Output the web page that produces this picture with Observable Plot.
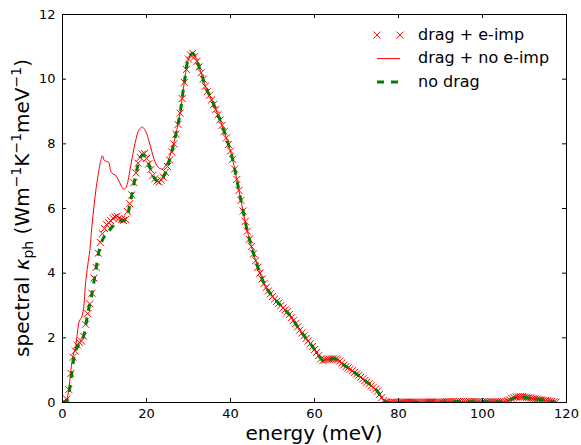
<!DOCTYPE html>
<html><head><meta charset="utf-8">
<script src="https://cdn.jsdelivr.net/npm/d3@7"></script>
<script src="https://cdn.jsdelivr.net/npm/@observablehq/plot@0.6"></script>
<style>body{margin:0;background:#fff} svg{display:block}</style>
</head><body><div id="chart"></div>
<script>
const xTicks = [0, 20, 40, 60, 80, 100, 120];
const yTicks = [0, 2, 4, 6, 8, 10, 12];
const seriesNames = ["drag + e-imp", "drag + no e-imp", "no drag"];
const xLabel = "energy (meV)";

// drag + e-imp (x markers)
const energyDragImp = [
  0,0.5,1,1.5,2,2.5,3,3.5,4,4.5,
  5,5.5,6,6.5,7,7.5,8,8.5,9,9.5,
  10,10.5,11,11.5,12,12.5,13,13.5,14,14.5,
  15,15.5,16,16.5,17,17.5,18,18.5,19,19.5,
  20,20.5,21,21.5,22,22.5,23,23.5,24,24.5,
  25,25.5,26,26.5,27,27.5,28,28.5,29,29.5,
  30,30.5,31,31.5,32,32.5,33,33.5,34,34.5,
  35,35.5,36,36.5,37,37.5,38,38.5,39,39.5,
  40,40.5,41,41.5,42,42.5,43,43.5,44,44.5,
  45,45.5,46,46.5,47,47.5,48,48.5,49,49.5,
  50,50.5,51,51.5,52,52.5,53,53.5,54,54.5,
  55,55.5,56,56.5,57,57.5,58,58.5,59,59.5,
  60,60.5,61,61.5,62,62.5,63,63.5,64,64.5,
  65,65.5,66,66.5,67,67.5,68,68.5,69,69.5,
  70,70.5,71,71.5,72,72.5,73,73.5,74,74.5,
  75,75.5,76,76.5,77,77.5,78,78.5,79,79.5,
  80,80.5,81,81.5,82,82.5,83,83.5,84,84.5,
  85,85.5,86,86.5,87,87.5,88,88.5,89,89.5,
  90,90.5,91,91.5,92,92.5,93,93.5,94,94.5,
  95,95.5,96,96.5,97,97.5,98,98.5,99,99.5,
  100,100.5,101,101.5,102,102.5,103,103.5,104,104.5,
  105,105.5,106,106.5,107,107.5,108,108.5,109,109.5,
  110,110.5,111,111.5,112,112.5,113,113.5,114,114.5,
  115,115.5,116,116.5,117,117.5
];
const kappaDragImp = [
  0,0.02,0.1,0.4,0.9,1.4,1.6,1.78,1.86,1.9,
  2.05,2.42,2.75,3.05,3.38,3.85,4.18,4.62,4.95,5.22,
  5.38,5.5,5.56,5.62,5.7,5.74,5.76,5.7,5.66,5.63,
  5.66,5.9,6.15,6.42,6.8,7.1,7.4,7.58,7.68,7.7,
  7.55,7.38,7.2,7.02,6.92,6.85,6.82,6.88,6.97,7.12,
  7.3,7.5,7.75,8.0,8.3,8.6,8.95,9.4,9.9,10.3,
  10.62,10.75,10.8,10.7,10.55,10.38,10.2,10.0,9.78,9.62,
  9.5,9.36,9.22,9.06,8.9,8.74,8.57,8.38,8.18,7.98,
  7.78,7.52,7.22,6.9,6.56,6.25,5.92,5.6,5.3,5.05,
  4.82,4.6,4.39,4.18,4.0,3.82,3.68,3.56,3.45,3.36,
  3.28,3.2,3.13,3.07,3.0,2.92,2.86,2.8,2.72,2.62,
  2.54,2.44,2.34,2.24,2.15,2.06,1.98,1.9,1.82,1.73,
  1.64,1.55,1.45,1.35,1.3,1.32,1.33,1.34,1.35,1.35,
  1.34,1.32,1.28,1.22,1.16,1.11,1.07,1.03,0.98,0.93,
  0.88,0.83,0.78,0.73,0.68,0.63,0.58,0.52,0.47,0.41,
  0.35,0.25,0.15,0.06,0.02,0,0,0.01,0.01,0.01,
  0.01,0.01,0.01,0.01,0.01,0.01,0.01,0.01,0.01,0.01,
  0.01,0.01,0.01,0.01,0.01,0.02,0.02,0.01,0.01,0.01,
  0.01,0.01,0.02,0.02,0.03,0.03,0.03,0.02,0.02,0.03,
  0.03,0.03,0.02,0.02,0.02,0.03,0.03,0.02,0.02,0.02,
  0.02,0.02,0.02,0.02,0.02,0.02,0.02,0.02,0.02,0.02,
  0.02,0.03,0.05,0.08,0.12,0.15,0.17,0.18,0.18,0.18,
  0.17,0.16,0.15,0.14,0.12,0.11,0.1,0.09,0.08,0.07,
  0.06,0.05,0.04,0.03,0.02,0.01
];

// no drag (green dashed)
const energyNoDrag = [
  0,1,2,3,4,5,6,7,8,9,
  10,11,12,13,14,15,16,17,18,19,
  20,21,22,23,24,25,26,27,28,29,
  30,31,32,33,34,35,36,37,38,39,
  40,41,42,43,44,45,46,47,48,49,
  50,51,52,53,54,55,56,57,58,59,
  60,61,62,63,64,65,66,67,68,69,
  70,71,72,73,74,75,76,77,78,79,
  80,81,82,83,84,85,86,87,88,89,
  90,91,92,93,94,95,96,97,98,99,
  100,101,102,103,104,105,106,107,108,109,
  110,111,112,113,114,115,116,117
];
const kappaNoDrag = [
  0,0.05,0.7,1.55,1.82,2.05,2.75,3.35,4.15,4.85,
  5.15,5.3,5.45,5.58,5.62,5.65,6.1,6.75,7.35,7.65,
  7.55,7.2,6.92,6.82,6.97,7.3,7.75,8.3,8.95,9.9,
  10.62,10.8,10.55,10.2,9.78,9.5,9.22,8.9,8.57,8.18,
  7.78,7.22,6.56,5.92,5.3,4.82,4.39,4.0,3.68,3.45,
  3.28,3.13,3.0,2.86,2.72,2.54,2.34,2.15,1.98,1.82,
  1.64,1.45,1.3,1.33,1.35,1.34,1.28,1.16,1.07,0.98,
  0.88,0.78,0.68,0.58,0.47,0.35,0.15,0.02,0,0.01,
  0.01,0.01,0.01,0.01,0.01,0.01,0.01,0.01,0.01,0.01,
  0.01,0.01,0.02,0.03,0.03,0.03,0.02,0.02,0.02,0.02,
  0.02,0.02,0.02,0.02,0.02,0.02,0.05,0.11,0.16,0.17,
  0.16,0.14,0.12,0.1,0.08,0.06,0.04,0.02
];

// drag + no e-imp (thin red line)
const energyDragNoImp = [
  0,0.5,1,1.5,2,2.5,3,3.5,4,4.5,
  5,5.5,6,6.5,7,7.5,8,8.5,9,9.5,
  10,10.5,11,11.5,12,12.5,13,13.5,14,14.5,
  15,15.5,16,16.5,17,17.5,18,18.5,19,19.5,
  20,20.5,21,21.5,22,22.5,23,23.5,24,24.5,
  25,25.5,26,26.5,27,
  28,29,30,31,32,33,34,35,36,37,38,39,
  40,41,42,43,44,45,46,47,48,49,
  50,51,52,53,54,55,56,57,58,59,
  60,61,62,63,64,65,66,67,68,69,
  70,71,72,73,74,75,76,77,78,79,
  80,81,82,83,84,85,86,87,88,89,
  90,91,92,93,94,95,96,97,98,99,
  100,101,102,103,104,105,106,107,108,109,
  110,111,112,113,114,115,116,117
];
const kappaDragNoImp = [
  0,0.02,0.1,0.4,1.0,1.45,1.65,2.1,2.52,2.62,
  2.9,3.7,4.24,4.7,5.45,6.08,6.62,7.05,7.42,7.63,
  7.48,7.46,7.43,7.15,7.07,7.04,6.95,6.83,6.7,6.6,
  6.62,6.8,7.15,7.5,7.85,8.15,8.38,8.48,8.52,8.45,
  8.33,8.12,7.9,7.65,7.45,7.32,7.25,7.22,7.24,7.32,
  7.42,7.6,7.8,8.02,8.3,
  8.95,9.9,10.62,10.8,10.55,10.2,9.78,9.5,9.22,8.9,8.57,8.18,
  7.78,7.22,6.56,5.92,5.3,4.82,4.39,4.0,3.68,3.45,
  3.28,3.13,3.0,2.86,2.72,2.54,2.34,2.15,1.98,1.82,
  1.64,1.45,1.3,1.33,1.35,1.34,1.28,1.16,1.07,0.98,
  0.88,0.78,0.68,0.58,0.47,0.35,0.15,0.02,0,0.01,
  0.01,0.01,0.01,0.01,0.01,0.01,0.01,0.01,0.01,0.01,
  0.01,0.01,0.02,0.03,0.03,0.03,0.02,0.02,0.02,0.02,
  0.02,0.02,0.02,0.02,0.02,0.02,0.05,0.11,0.16,0.17,
  0.16,0.14,0.12,0.1,0.08,0.06,0.04,0.02
];

const W = 581, H = 445, mL = 62, mR = 15, mT = 14, mB = 43;
const innerW = W - mL - mR, innerH = H - mT - mB;
const tickLen = 4;
const RED = "#ff0000", GREEN = "#008000";
const FONT = "DejaVu Sans";
const MR = 3.3;

const ptsDragImp = energyDragImp.map((e, i) => ({e, k: kappaDragImp[i]}));
const ptsNoDrag = energyNoDrag.map((e, i) => ({e, k: kappaNoDrag[i]}));
const ptsDragNoImp = energyDragNoImp.map((e, i) => ({e, k: kappaDragNoImp[i]}));

const svgEl = Plot.plot({
  width: W, height: H,
  marginLeft: mL, marginRight: mR, marginTop: mT, marginBottom: mB,
  style: {fontFamily: FONT, fontSize: "13px", color: "black", background: "white"},
  x: {domain: [0, 120], ticks: xTicks, tickSize: 0, tickPadding: 6, label: null},
  y: {domain: [0, 12], ticks: yTicks, tickSize: 0, tickPadding: 7, label: null},
  marks: [
    Plot.dot(ptsDragImp, {x: "e", y: "k", symbol: "times", r: MR, stroke: RED, fill: "none", strokeWidth: 1, clip: true}),
    Plot.line(ptsDragNoImp, {x: "e", y: "k", stroke: RED, strokeWidth: 1, curve: "catmull-rom", clip: true}),
    Plot.line(ptsNoDrag, {x: "e", y: "k", stroke: GREEN, strokeWidth: 3, strokeDasharray: "7,7", strokeLinecap: "butt", curve: "catmull-rom", clip: true}),
    Plot.frame({stroke: "black", strokeWidth: 1}),
    Plot.tickX(xTicks, {x: d => d, insetTop: innerH - tickLen, stroke: "black"}),
    Plot.tickX(xTicks, {x: d => d, insetBottom: innerH - tickLen, stroke: "black"}),
    Plot.tickY(yTicks, {y: d => d, insetRight: innerW - tickLen, stroke: "black"}),
    Plot.tickY(yTicks, {y: d => d, insetLeft: innerW - tickLen, stroke: "black"})
  ]
});
document.getElementById("chart").appendChild(svgEl);

const svg = d3.select(svgEl);

// x label
svg.append("text")
  .attr("x", mL + innerW / 2).attr("y", 440)
  .attr("text-anchor", "middle")
  .attr("font-family", FONT).attr("font-size", 20).attr("fill", "black")
  .text(xLabel);

// y label with math parts
const yl = svg.append("text")
  .attr("transform", `translate(28.5,${mT + innerH / 2}) rotate(-90)`)
  .attr("text-anchor", "middle")
  .attr("font-family", FONT).attr("font-size", 20).attr("fill", "black");
yl.append("tspan").text("spectral ");
yl.append("tspan").attr("font-style", "italic").text("κ");
yl.append("tspan").attr("font-size", 14).attr("dy", 4).text("ph");
yl.append("tspan").attr("dy", -4).text(" (Wm");
yl.append("tspan").attr("font-size", 14).attr("dy", -8).text("−1");
yl.append("tspan").attr("dy", 8).text("K");
yl.append("tspan").attr("font-size", 14).attr("dy", -8).text("−1");
yl.append("tspan").attr("dy", 8).text("meV");
yl.append("tspan").attr("font-size", 14).attr("dy", -8).text("−1");
yl.append("tspan").attr("dy", 8).text(")");

// legend
const lg = svg.append("g").attr("font-family", FONT).attr("font-size", 16).attr("text-anchor", "start");
const rowsBase = [39.7, 63.2, 86.5];
const hx0 = 377, hx1 = 400, tx = 418;
const timesPath = d3.symbol(d3.symbolTimes, Math.PI * MR * MR)();
seriesNames.forEach((name, i) => {
  const cy = rowsBase[i] - 4.6;
  if (i === 0) {
    [hx0, hx1].forEach(px => lg.append("path").attr("d", timesPath)
      .attr("transform", `translate(${px},${cy})`).attr("stroke", RED).attr("fill", "none").attr("stroke-width", 1));
  } else if (i === 1) {
    lg.append("line").attr("x1", hx0).attr("x2", hx1).attr("y1", cy).attr("y2", cy)
      .attr("stroke", RED).attr("stroke-width", 1);
  } else {
    lg.append("line").attr("x1", hx0).attr("x2", hx1).attr("y1", cy).attr("y2", cy)
      .attr("stroke", GREEN).attr("stroke-width", 3).attr("stroke-dasharray", "7,7");
  }
  lg.append("text").attr("x", tx).attr("y", rowsBase[i]).attr("text-anchor", "start").attr("fill", "black").text(name);
});
</script>
</body></html>
